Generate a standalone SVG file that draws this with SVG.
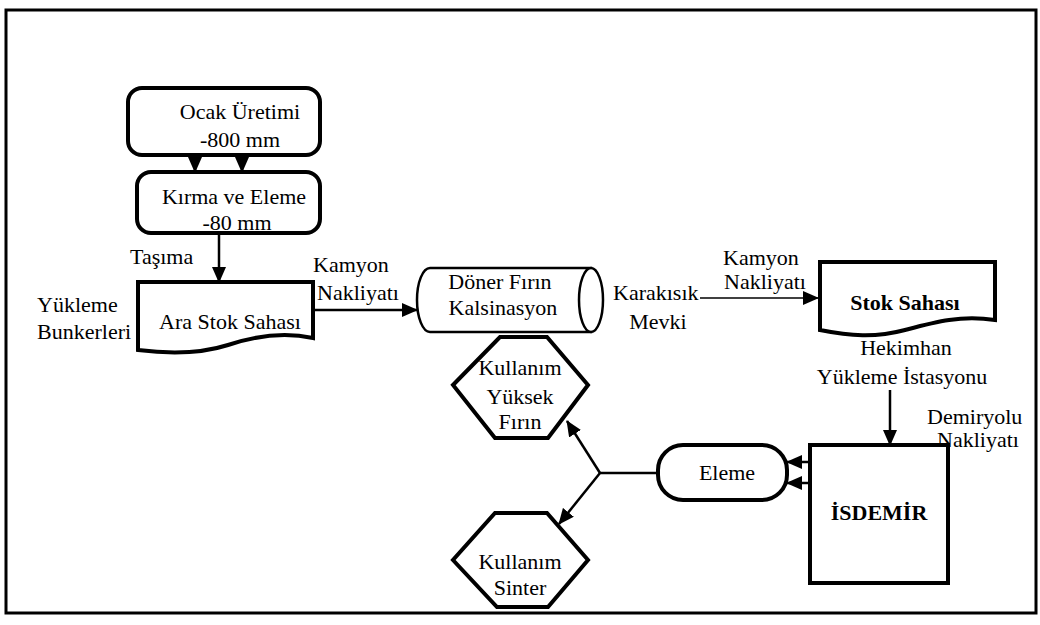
<svg xmlns="http://www.w3.org/2000/svg" width="1040" height="625" viewBox="0 0 1040 625" font-family="'Liberation Serif','Times New Roman',serif">
<defs>
<marker id="ah" markerUnits="userSpaceOnUse" markerWidth="16" markerHeight="14" refX="15" refY="7" orient="auto">
<path d="M0,0 L16,7 L0,14 Z" fill="#000"/>
</marker>
</defs>
<style>
text{font-family:"Liberation Serif","Times New Roman",serif;font-size:22px;fill:#000}
.m{text-anchor:middle}
.b{font-weight:bold}
.box{fill:#fff;stroke:#000;stroke-width:4}
.thin{fill:#fff;stroke:#000;stroke-width:2.5}
.c{fill:none;stroke:#000;stroke-width:2.5}
.c1{fill:none;stroke:#000;stroke-width:1.5}
</style>
<rect x="6" y="10" width="1030" height="603" fill="#fff" stroke="#000" stroke-width="3"/>
<g id="connectors">
<line class="c" x1="195" y1="155" x2="195" y2="172" marker-end="url(#ah)"/>
<line class="c" x1="242" y1="155" x2="242" y2="172" marker-end="url(#ah)"/>
<line class="c" x1="219" y1="233" x2="219" y2="282" marker-end="url(#ah)"/>
<line class="c" x1="313" y1="310" x2="417" y2="310" marker-end="url(#ah)"/>
<line class="c1" x1="700" y1="298" x2="818" y2="298" marker-end="url(#ah)"/>
<line class="c" x1="890" y1="390" x2="890" y2="445" marker-end="url(#ah)"/>
<line class="c" x1="810" y1="462" x2="787" y2="462" marker-end="url(#ah)"/>
<line class="c" x1="810" y1="483" x2="787" y2="483" marker-end="url(#ah)"/>
<line class="c" x1="658" y1="473" x2="600" y2="473"/>
<line class="c" x1="600" y1="473" x2="567" y2="421" marker-end="url(#ah)"/>
<line class="c" x1="600" y1="473" x2="559" y2="524" marker-end="url(#ah)"/>
</g>
<g id="ocak">
<rect class="box" x="128" y="88" width="192" height="67" rx="14"/>
<text class="m" x="240" y="119">Ocak Üretimi</text>
<text class="m" x="240" y="147">-800 mm</text>
</g>
<g id="kirma">
<rect class="box" x="137" y="172" width="183" height="61" rx="14"/>
<text class="m" x="234" y="204">Kırma ve Eleme</text>
<text class="m" x="237" y="230">-80 mm</text>
</g>
<g id="tasima-label"><text x="130" y="264">Taşıma</text></g>
<g id="ara-stok">
<path class="box" d="M138,282 H313 V338 C285,332 255,336 228,345 C200,354 170,354 138,350 Z"/>
<text class="m" x="230" y="329">Ara Stok Sahası</text>
</g>
<g id="yukleme-label">
<text x="37" y="312">Yükleme</text>
<text x="37" y="339">Bunkerleri</text>
</g>
<g id="kamyon1-label">
<text x="313" y="272">Kamyon</text>
<text x="317" y="300">Nakliyatı</text>
</g>
<g id="doner">
<path class="thin" d="M430,268 H591 V332 H430 A13,32 0 0 1 430,268 Z"/>
<ellipse class="thin" cx="591" cy="300" rx="12" ry="32"/>
<text class="m" x="500" y="289">Döner Fırın</text>
<text class="m" x="503" y="315">Kalsinasyon</text>
</g>
<g id="karakisik-label">
<text x="613" y="300">Karakısık</text>
<text class="m" x="658" y="329">Mevki</text>
</g>
<g id="kamyon2-label">
<text class="m" x="761" y="265">Kamyon</text>
<text class="m" x="765" y="289">Nakliyatı</text>
</g>
<g id="stok">
<path class="box" d="M820,262 H995 V320 C960,315 935,322 905,330 C875,338 850,336 820,330 Z"/>
<text class="m b" x="905" y="310">Stok Sahası</text>
</g>
<g id="hekimhan-label">
<text class="m" x="906" y="355">Hekimhan</text>
<text class="m" x="902" y="384">Yükleme İstasyonu</text>
</g>
<g id="demiryolu-label">
<text x="927" y="424">Demiryolu</text>
<text x="937" y="447">Nakliyatı</text>
</g>
<g id="isdemir">
<rect class="box" x="810" y="445" width="138" height="138"/>
<text class="m b" x="879" y="520">İSDEMİR</text>
</g>
<g id="eleme">
<rect class="box" x="658" y="445" width="129" height="55" rx="25"/>
<text class="m" x="727" y="480">Eleme</text>
</g>
<g id="kullanim-yuksek">
<polygon class="box" points="500,337 547,337 588,385 548,438 495,438 453,385"/>
<text class="m" x="520" y="375">Kullanım</text>
<text class="m" x="520" y="404">Yüksek</text>
<text class="m" x="520" y="429">Fırın</text>
</g>
<g id="kullanim-sinter">
<polygon class="box" points="495,513 547,513 588,560 548,607 497,607 453,560"/>
<text class="m" x="520" y="569">Kullanım</text>
<text class="m" x="520" y="595">Sinter</text>
</g>
</svg>
